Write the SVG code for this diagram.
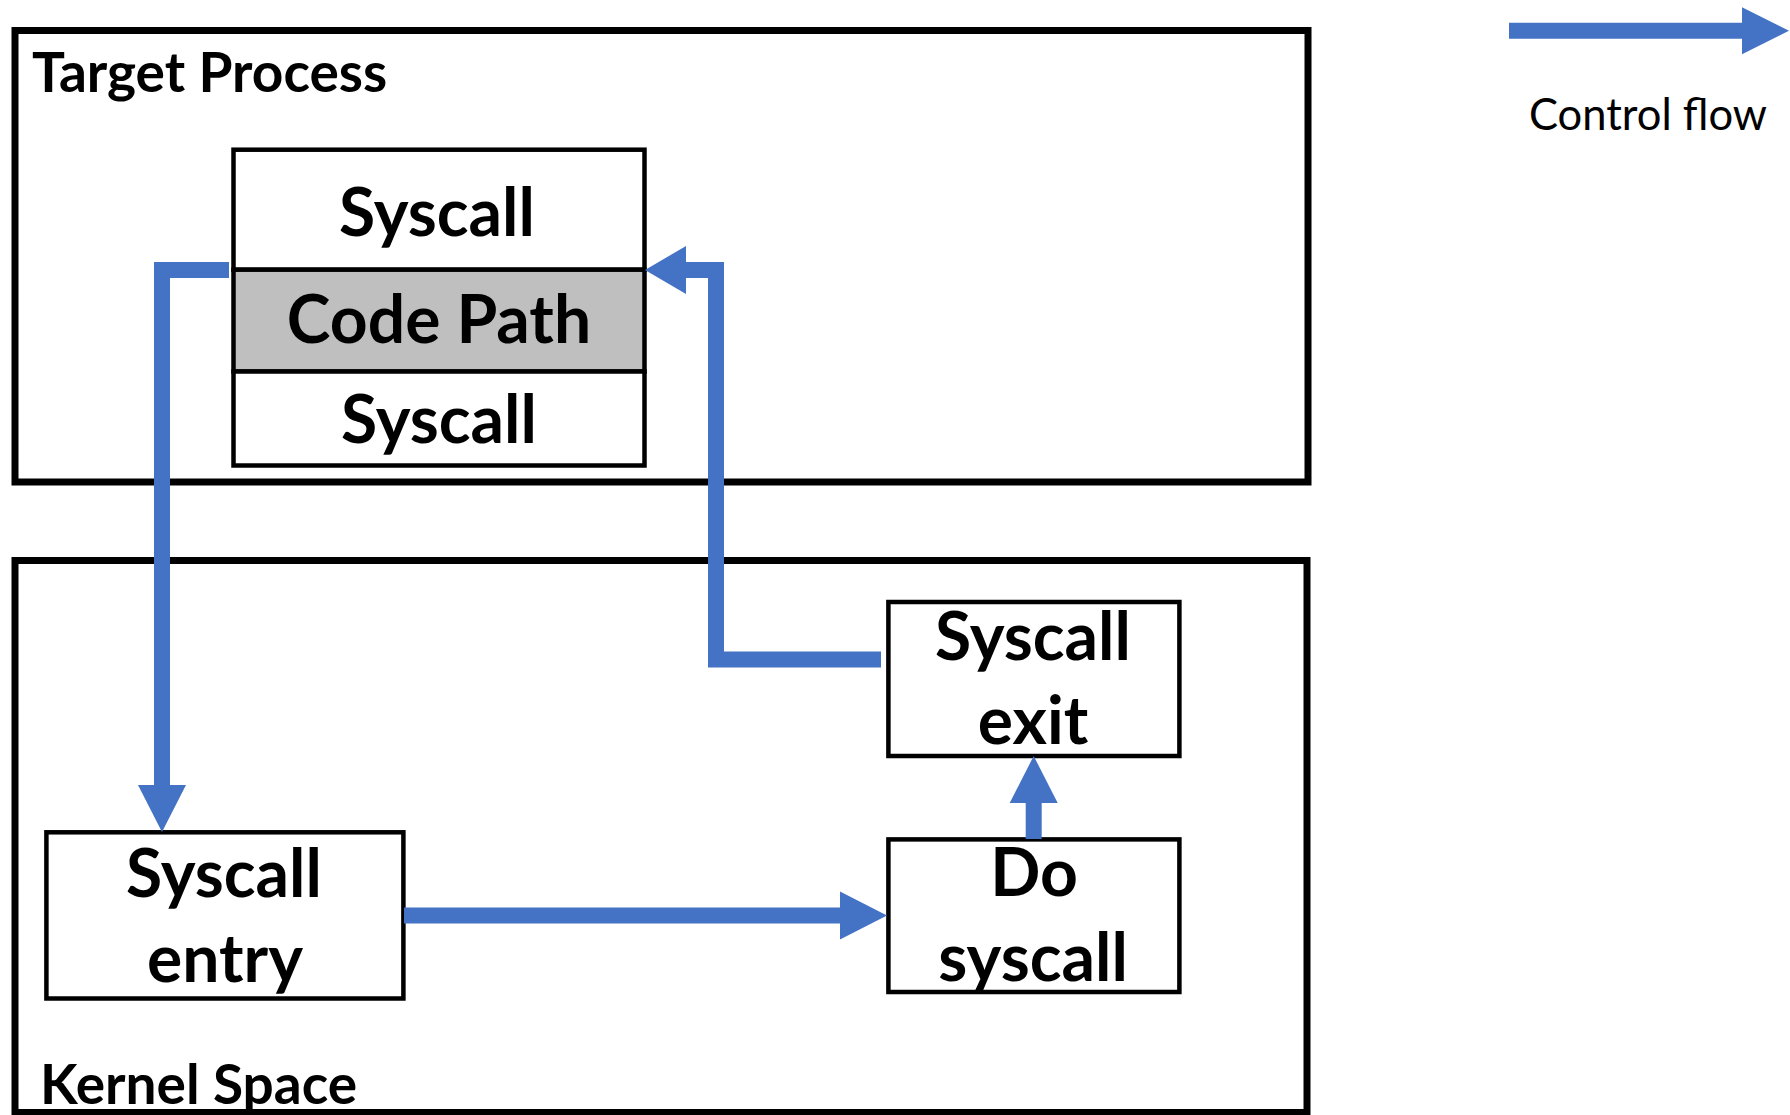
<svg xmlns="http://www.w3.org/2000/svg" width="1790" height="1115" viewBox="0 0 1790 1115">
  <style>
    .frame { fill: none; stroke: #000; stroke-width: 7; }
    .box { fill: #fff; stroke: #000; stroke-width: 4.5; }
    .shade { fill: #BFBFBF; stroke: #000; stroke-width: 4.5; }
    .title { font-family: Lato, "Liberation Sans", sans-serif; font-weight: bold; font-size: 55px; fill: #000; }
    .label { font-family: Lato, "Liberation Sans", sans-serif; font-weight: bold; font-size: 66px; fill: #000; text-anchor: middle; }
    .legend { font-family: Lato, "Liberation Sans", sans-serif; font-size: 43.5px; fill: #000; }
    .flow { fill: none; stroke: #4472C4; stroke-width: 16; stroke-linejoin: miter; }
    .head { fill: #4472C4; }
  </style>

  <rect width="1790" height="1115" fill="#fff"/>

  <!-- user-space container -->
  <g id="target-process">
    <rect class="frame" x="15" y="30.5" width="1293" height="451.5"/>
    <text class="title" x="32" y="92">Target Process</text>
  </g>

  <!-- kernel container -->
  <g id="kernel-space">
    <rect class="frame" x="15" y="560.5" width="1292" height="552"/>
    <text class="title" x="40" y="1104">Kernel Space</text>
  </g>

  <!-- stacked code blocks inside the process -->
  <g id="syscall-top">
    <rect class="box" x="233.5" y="149.7" width="411" height="120"/>
    <text class="label" x="437" y="236">Syscall</text>
  </g>
  <g id="code-path">
    <rect class="shade" x="233.5" y="269.7" width="411" height="101.8"/>
    <text class="label" x="439" y="343">Code Path</text>
  </g>
  <g id="syscall-bottom">
    <rect class="box" x="233.5" y="371.5" width="411" height="94"/>
    <text class="label" x="439" y="443">Syscall</text>
  </g>

  <!-- kernel stages -->
  <g id="syscall-entry">
    <rect class="box" x="46.4" y="832.3" width="357" height="166.2"/>
    <text class="label" x="224" y="897">Syscall</text>
    <text class="label" x="225" y="982">entry</text>
  </g>
  <g id="do-syscall">
    <rect class="box" x="888.4" y="839.4" width="291" height="152.6"/>
    <text class="label" x="1034" y="896">Do</text>
    <text class="label" x="1033" y="981">syscall</text>
  </g>
  <g id="syscall-exit">
    <rect class="box" x="888.4" y="602" width="291" height="154"/>
    <text class="label" x="1033" y="660">Syscall</text>
    <text class="label" x="1033" y="744">exit</text>
  </g>

  <!-- control-flow connectors -->
  <g id="connectors">
    <!-- process -> syscall entry -->
    <path class="flow" d="M229,270 H162 V786"/>
    <polygon class="head" points="138,785 186,785 162,832"/>
    <!-- entry -> do syscall -->
    <path class="flow" d="M404,915.5 H841"/>
    <polygon class="head" points="840,891.5 840,939.5 887,915.5"/>
    <!-- do syscall -> exit -->
    <path class="flow" d="M1033.7,839 V802"/>
    <polygon class="head" points="1009.7,803 1057.7,803 1033.7,756"/>
    <!-- exit -> back into the process -->
    <path class="flow" d="M881,659.5 H716 V270 H685"/>
    <polygon class="head" points="686,246 686,294 645,270"/>
  </g>

  <!-- legend -->
  <g id="legend">
    <path class="flow" d="M1509,30.8 H1743"/>
    <polygon class="head" points="1742,7.3 1742,54.3 1789,30.8"/>
    <text class="legend" x="1529" y="130">Control flow</text>
  </g>
</svg>
